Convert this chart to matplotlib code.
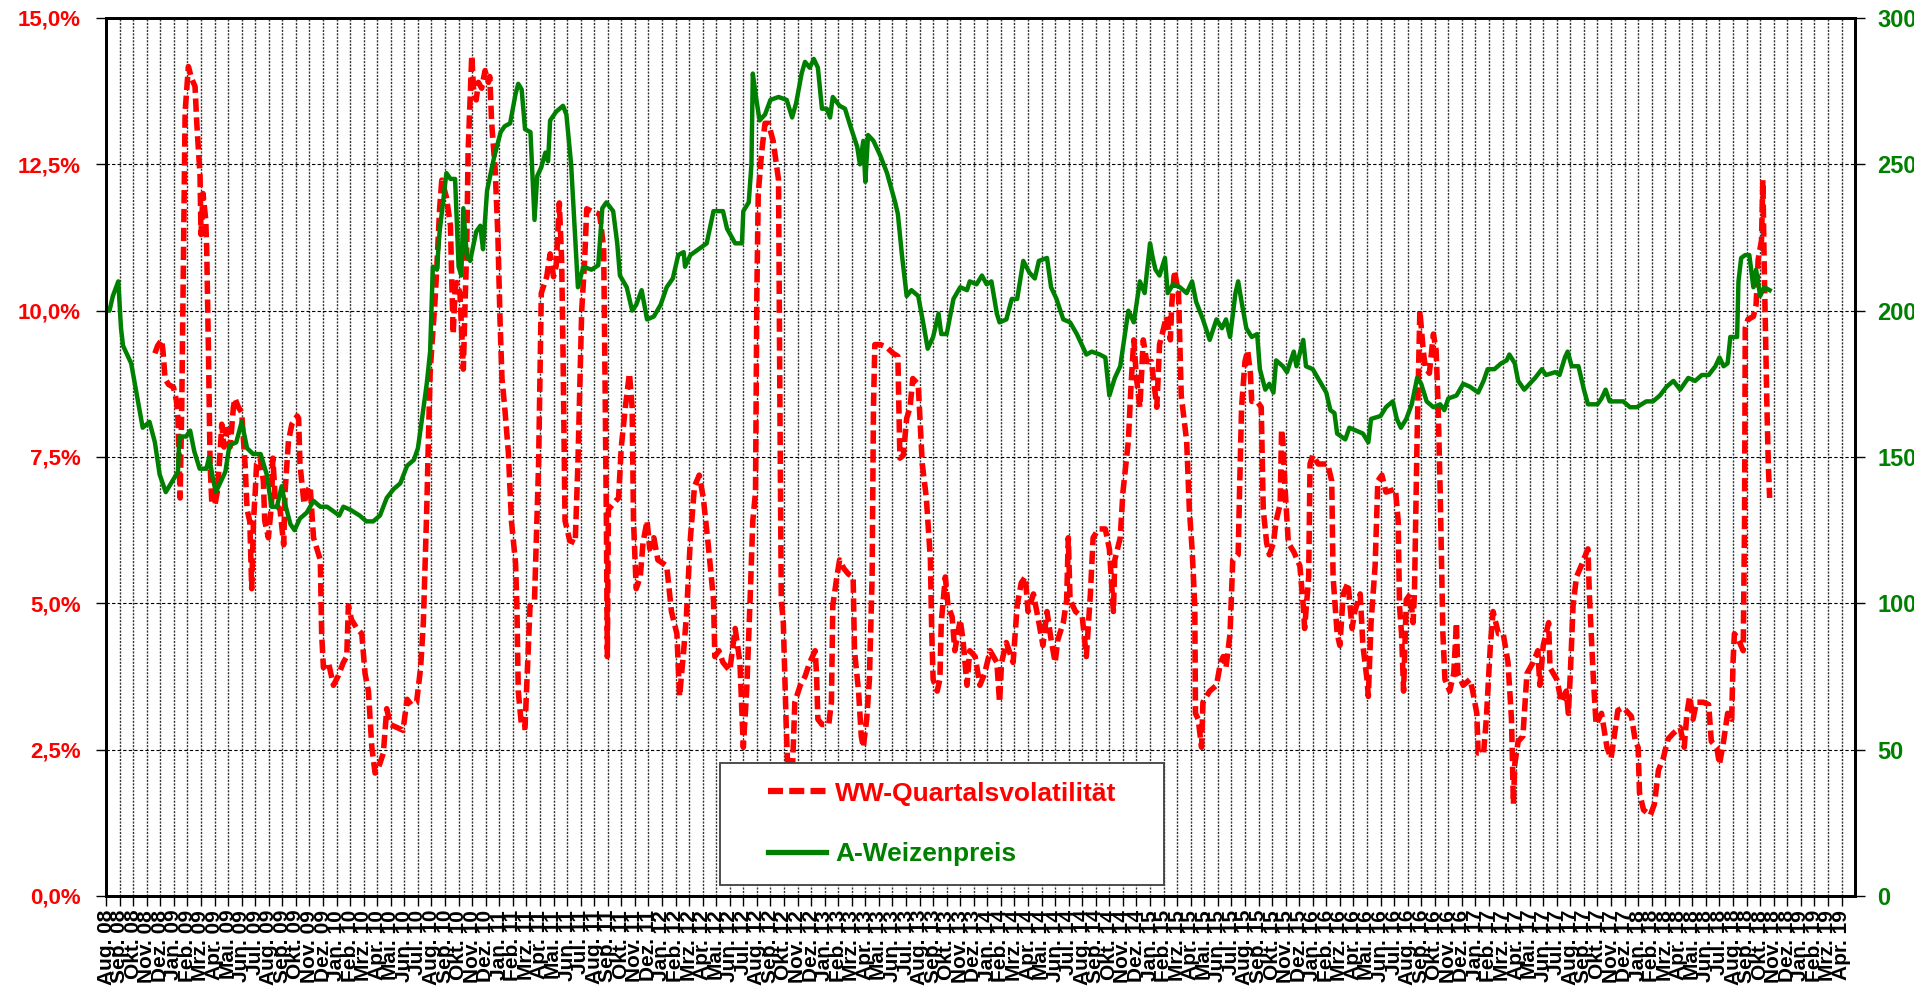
import matplotlib
matplotlib.use('Agg')
import matplotlib.pyplot as plt
from matplotlib.patches import Rectangle
from matplotlib.lines import Line2D

plt.rcParams['font.family'] = ['Liberation Sans', 'DejaVu Sans']

# x positions are months counted from Aug 2008 (0 = 1 Aug 2008)
vol_month = [3.6, 3.8, 4.1, 4.2, 4.35, 4.6, 4.97, 5.2, 5.3, 5.46, 5.58, 5.7, 5.83, 6.07, 6.3, 6.56, 6.69, 6.93, 7.0,
             7.15, 7.35, 7.42, 7.55, 7.67, 7.8, 8.04, 8.2, 8.41, 8.53, 8.7, 8.9, 9.15, 9.39, 9.5, 9.76, 10.0, 10.25,
             10.4, 10.6, 10.74, 10.87, 11.0, 11.1, 11.36, 11.6, 11.7, 11.97, 12.2, 12.3, 12.5, 12.83, 13.1, 13.2,
             13.45, 13.7, 14.1, 14.2, 14.3, 14.6, 14.8, 15.05, 15.3, 15.8, 15.9, 16.03, 16.4, 16.77, 17.1, 17.5,
             17.75, 17.87, 18.1, 18.5, 18.86, 19.1, 19.35, 19.6, 19.84, 20.1, 20.45, 20.7, 20.95, 21.44, 21.9, 22.2,
             22.5, 22.9, 23.2, 23.4, 23.5, 23.65, 23.77, 23.9, 24.0, 24.27, 24.4, 24.6, 24.76, 25.1, 25.4, 25.5,
             25.6, 25.75, 25.86, 26.1, 26.35, 26.5, 26.6, 26.7, 26.97, 27.1, 27.3, 27.46, 27.7, 27.95, 28.2, 28.3,
             28.44, 28.7, 28.9, 29.06, 29.2, 29.4, 29.67, 29.9, 30.2, 30.3, 30.4, 30.65, 30.9, 31.27, 31.6, 31.9,
             32.1, 32.5, 32.75, 33.0, 33.2, 33.43, 33.6, 33.7, 33.85, 34.2, 34.6, 34.8, 35.08, 35.3, 35.45, 35.8,
             36.4, 36.7, 36.8, 36.9, 36.97, 37.05, 37.4, 37.8, 38.0, 38.3, 38.6, 38.8, 38.9, 39.1, 39.4, 39.6,
             39.9, 40.1, 40.4, 40.7, 41.35, 41.7, 42.1, 42.3, 42.6, 42.8, 43.1, 43.4, 43.75, 44.05, 44.4, 44.8,
             44.9, 45.2, 45.5, 46.0, 46.4, 46.75, 47.0, 47.25, 47.5, 47.7, 47.9, 48.0, 48.1, 48.35, 48.6, 48.85,
             49.2, 49.6, 49.7, 49.8, 49.95, 50.15, 50.3, 50.6, 50.8, 51.2, 51.55, 51.9, 52.3, 52.4, 52.5, 52.8,
             53.3, 53.5, 53.6, 53.9, 54.1, 54.4, 54.75, 55.1, 55.2, 55.5, 55.7, 55.85, 56.1, 56.3, 56.5, 56.6,
             56.7, 57.1, 57.6, 58.06, 58.4, 58.55, 58.8, 59.05, 59.3, 59.5, 59.9, 60.2, 60.5, 60.8, 60.9, 61.0,
             61.3, 61.5, 61.6, 61.9, 62.1, 62.4, 62.6, 63.0, 63.2, 63.5, 63.7, 64.1, 64.45, 64.8, 65.2, 65.7,
             65.9, 66.05, 66.4, 66.9, 67.2, 67.5, 67.8, 68.0, 68.4, 68.8, 69.1, 69.4, 69.7, 70.0, 70.2, 70.6,
             70.85, 70.97, 71.1, 71.5, 72.0, 72.3, 72.6, 72.8, 73.2, 73.7, 74.0, 74.3, 74.4, 74.8, 75.0, 75.4,
             75.6, 75.8, 76.0, 76.25, 76.5, 76.75, 77.1, 77.4, 77.5, 77.7, 78.0, 78.2, 78.5, 78.6, 78.8, 79.1,
             79.3, 79.7, 79.9, 80.1, 80.3, 80.35, 80.55, 80.8, 80.9, 81.4, 81.9, 82.2, 82.4, 82.6, 82.9, 83.1,
             83.5, 83.6, 83.75, 84.0, 84.2, 84.4, 84.5, 84.9, 85.2, 85.35, 85.6, 85.8, 86.1, 86.3, 86.6, 86.7,
             86.8, 86.95, 87.1, 87.2, 87.6, 88.05, 88.3, 88.4, 88.7, 88.8, 89.0, 89.4, 90.1, 90.4, 90.5, 90.8,
             91.0, 91.25, 91.6, 91.9, 92.1, 92.5, 92.7, 93.0, 93.1, 93.3, 93.6, 93.8, 94.1, 94.4, 95.1, 95.3,
             95.4, 95.55, 95.7, 95.9, 96.2, 96.4, 96.5, 96.7, 96.9, 97.15, 97.3, 97.6, 97.9, 98.1, 98.25, 98.4,
             98.6, 98.75, 99.1, 99.4, 99.6, 99.7, 100.1, 100.6, 100.8, 101.1, 101.2, 101.6, 101.8, 102.1, 102.3,
             102.7, 103.05, 103.4, 103.66, 103.8, 103.9, 104.15, 104.5, 104.8, 105.25, 105.6, 105.75, 106.0,
             106.4, 106.5, 107.0, 107.35, 107.7, 107.85, 108.0, 108.2, 108.45, 108.8, 109.3, 109.4, 109.7, 109.9,
             110.3, 110.7, 111.0, 111.3, 111.5, 111.9, 112.5, 112.8, 113.0, 113.1, 113.4, 113.9, 114.2, 114.5,
             114.85, 115.2, 115.6, 116.1, 116.4, 116.6, 116.8, 117.05, 117.3, 117.8, 118.2, 118.4, 118.8, 119.0,
             119.3, 119.6, 119.9, 120.0, 120.1, 120.4, 120.75, 120.85, 120.9, 121.1, 121.5, 121.7, 121.85, 122.1,
             122.2, 122.3, 122.5, 122.6, 122.7]
vol_pct = [9.27, 9.4, 9.5, 9.3, 8.84, 8.74, 8.69, 8.45, 8.16, 6.8, 8.35, 10.8, 13.4, 14.17, 13.97, 13.83, 13.2, 12.3,
           11.3, 12.0, 11.55, 11.07, 9.3, 7.38, 6.7, 6.7, 6.9, 7.58, 8.06, 7.67, 7.97, 7.67, 8.35, 8.5, 8.35, 8.26,
           7.38, 6.6, 6.4, 5.25, 6.4, 6.9, 7.38, 7.48, 7.09, 6.41, 6.12, 6.7, 7.48, 6.7, 6.6, 6.0, 6.9, 7.77, 8.06,
           8.2, 8.16, 7.38, 6.7, 6.9, 7.0, 6.12, 5.74, 4.48, 3.9, 3.99, 3.6, 3.75, 3.99, 4.09, 4.96, 4.72, 4.57,
           4.48, 3.8, 3.5, 2.54, 2.1, 2.2, 2.44, 3.2, 2.93, 2.88, 2.83, 3.36, 3.27, 3.31, 3.9, 4.67, 5.45, 6.6,
           7.77, 8.93, 9.3, 10.2, 10.77, 11.74, 12.23, 11.94, 11.45, 10.48, 9.6, 10.4, 10.48, 10.3, 9.0, 10.3,
           11.07, 12.7, 14.36, 13.8, 13.6, 13.9, 13.8, 14.1, 13.9, 14.0, 13.2, 12.4, 11.26, 9.8, 8.84, 8.35, 7.58,
           6.4, 5.69, 4.96, 3.5, 2.88, 2.88, 4.96, 5.06, 7.38, 10.3, 10.58, 10.97, 10.58, 10.77, 11.84, 10.87,
           9.32, 6.41, 6.07, 6.03, 7.38, 10.0, 10.87, 11.74, 11.7, 11.65, 11.07, 8.84, 6.41, 4.09, 6.6, 6.7, 6.8,
           7.67, 8.35, 8.93, 8.35, 6.41, 5.25, 5.45, 6.03, 6.41, 5.93, 6.12, 5.74, 5.64, 4.86, 4.48, 3.41, 4.19,
           4.77, 6.12, 7.0, 7.19, 6.8, 6.03, 5.06, 4.09, 4.19, 3.99, 3.85, 4.57, 3.99, 2.54, 3.51, 5.06, 6.41, 6.9,
           10.3, 12.0, 12.7, 13.2, 13.2, 12.9, 12.23, 8.35, 5.06, 4.67, 3.02, 2.0, 2.0, 3.31, 3.6, 3.75, 3.99,
           4.19, 3.8, 3.02, 2.93, 2.93, 3.31, 4.96, 5.45, 5.74, 5.6, 5.5, 5.45, 4.19, 3.5, 2.73, 2.54, 3.02, 3.7,
           5.45, 8.35, 9.42, 9.42, 9.37, 9.27, 9.22, 7.48, 7.53, 8.16, 8.35, 8.84, 8.74, 7.38, 6.8, 5.74, 4.48,
           3.7, 3.5, 3.7, 4.67, 5.45, 4.96, 4.77, 4.19, 4.72, 4.38, 3.6, 4.19, 4.09, 3.6, 3.8, 4.19, 3.99, 3.31,
           3.99, 4.33, 3.99, 4.96, 5.35, 5.45, 4.86, 5.16, 4.67, 4.28, 4.86, 4.38, 3.99, 4.38, 4.67, 5.06, 6.12,
           5.06, 4.86, 4.77, 4.09, 5.16, 6.12, 6.27, 6.27, 5.93, 4.86, 5.74, 6.12, 6.9, 7.77, 8.74, 9.5, 8.84,
           8.35, 9.5, 9.13, 9.13, 8.55, 8.35, 9.42, 9.7, 9.9, 9.5, 10.1, 10.68, 10.3, 8.55, 7.77, 6.6, 5.93, 4.96,
           3.12, 3.02, 2.54, 3.31, 3.5, 3.6, 3.99, 4.09, 3.9, 4.48, 5.74, 5.83, 6.9, 8.35, 9.13, 9.32, 8.93, 8.45,
           8.45, 8.35, 6.6, 6.03, 5.83, 6.03, 6.41, 6.7, 7.97, 7.77, 7.0, 6.41, 6.03, 5.88, 5.64, 4.96, 4.57, 5.45,
           7.38, 7.53, 7.38, 7.38, 7.09, 5.45, 4.48, 4.28, 5.16, 5.35, 4.57, 4.86, 5.16, 4.28, 3.7, 3.41, 4.67,
           5.64, 7.09, 7.19, 6.9, 6.95, 6.41, 4.96, 4.48, 3.5, 5.06, 5.16, 4.67, 5.16, 7.87, 10.0, 9.32, 9.03,
           8.93, 9.6, 9.32, 8.35, 6.9, 4.48, 3.7, 3.5, 3.8, 4.67, 3.8, 3.6, 3.7, 3.5, 3.12, 2.44, 2.44, 3.02,
           4.28, 4.86, 4.48, 4.48, 3.99, 3.02, 1.57, 2.25, 2.64, 2.73, 3.8, 3.99, 4.19, 3.6, 4.28, 4.67, 3.9, 3.7,
           3.31, 3.5, 3.12, 3.8, 4.96, 5.45, 5.64, 5.93, 5.16, 3.7, 2.93, 3.12, 2.54, 2.35, 2.83, 3.17, 3.22,
           3.07, 2.64, 2.54, 1.76, 1.47, 1.38, 1.57, 2.15, 2.35, 2.68, 2.78, 2.88, 2.54, 3.12, 3.41, 3.02, 3.31,
           3.31, 3.27, 2.64, 2.54, 2.25, 2.64, 3.12, 3.02, 3.99, 4.48, 4.38, 4.19, 6.41, 9.7, 9.85, 9.9, 10.1,
           10.87, 11.2, 12.23, 10.77, 8.35, 7.38, 6.8]

price_month = [0, 0.25, 0.5, 0.9, 1.1, 1.25, 1.85, 2.2, 2.7, 3.2, 3.6, 3.95, 4.4, 5.05, 5.3, 5.4, 5.9, 6.2, 6.5, 6.9,
               7.4, 7.6, 7.9, 8.1, 8.8, 9.1, 9.6, 10.0, 10.4, 10.85, 11.4, 11.85, 12.2, 12.6, 12.95, 13.2, 13.6,
               13.9, 14.3, 14.8, 15.3, 15.8, 16.3, 17.2, 17.5, 18.0, 18.7, 19.2, 19.7, 20.2, 20.7, 21.2, 21.7,
               22.2, 22.7, 23.0, 23.3, 23.65, 23.9, 24.1, 24.4, 24.6, 24.9, 25.1, 25.4, 25.74, 26.0, 26.2, 26.35,
               26.6, 26.85, 27.3, 27.6, 27.8, 28.1, 28.6, 29.1, 29.4, 29.8, 30.2, 30.4, 30.65, 30.9, 31.3, 31.6,
               31.8, 32.1, 32.4, 32.6, 32.75, 33.2, 33.7, 33.95, 34.3, 34.8, 35.2, 35.8, 36.3, 36.6, 36.9, 37.4,
               37.7, 37.9, 38.4, 38.8, 39.1, 39.5, 39.9, 40.4, 40.9, 41.35, 41.8, 42.2, 42.6, 42.7, 43.1, 43.7,
               44.3, 44.8, 45.5, 45.8, 46.4, 46.9, 47.0, 47.4, 47.6, 47.7, 47.9, 48.2, 48.6, 49.0, 49.6, 50.2,
               50.6, 50.9, 51.3, 51.55, 51.9, 52.2, 52.5, 52.8, 53.15, 53.4, 53.6, 54.1, 54.5, 54.9, 55.4, 55.6,
               55.85, 56.0, 56.2, 56.6, 57.1, 57.6, 57.9, 58.2, 58.4, 58.7, 59.05, 59.4, 59.9, 60.3, 60.6, 61.0,
               61.4, 61.6, 62.0, 62.5, 63.0, 63.5, 63.7, 64.2, 64.6, 64.95, 65.3, 65.7, 65.9, 66.4, 66.8, 67.2,
               67.65, 68.1, 68.5, 68.8, 69.4, 69.7, 70.1, 70.6, 71.1, 71.6, 72.1, 72.3, 72.7, 73.3, 73.7, 74.0,
               74.4, 74.8, 75.15, 75.4, 75.8, 76.25, 76.6, 77.0, 77.2, 77.4, 77.7, 78.1, 78.3, 78.7, 79.2, 79.7,
               80.1, 80.4, 80.9, 81.4, 81.9, 82.3, 82.6, 82.9, 83.3, 83.5, 83.75, 84.1, 84.5, 84.9, 85.1, 85.5,
               85.8, 86.1, 86.3, 86.8, 87.1, 87.6, 87.8, 88.3, 88.5, 89.0, 89.5, 90.0, 90.3, 90.6, 90.8, 91.4,
               91.7, 92.2, 92.7, 93.1, 93.3, 94.0, 94.4, 94.9, 95.2, 95.5, 95.9, 96.3, 96.7, 97.0, 97.4, 97.9,
               98.4, 98.7, 99.0, 99.6, 100.1, 100.6, 101.2, 101.6, 101.9, 102.4, 102.9, 103.3, 103.5, 103.9,
               104.15, 104.6, 105.0, 105.4, 105.9, 106.2, 106.9, 107.2, 107.6, 107.8, 108.1, 108.6, 109.0, 109.3,
               110.0, 110.3, 110.6, 110.9, 111.9, 112.4, 112.9, 113.6, 114.1, 114.6, 115.1, 115.6, 116.1, 116.7,
               117.2, 117.7, 118.2, 118.7, 119.0, 119.3, 119.6, 119.8, 120.3, 120.4, 120.6, 120.9, 121.2, 121.5,
               121.7, 122.0, 122.3, 122.7]
price_eur = [200, 200, 205, 210, 194, 188, 182, 173, 160, 162, 155, 144, 138, 143, 145, 157, 157, 159, 152, 146, 146,
             150, 142, 138, 145, 154, 155, 162, 153, 151, 151, 144, 133, 133, 140, 134, 127, 125, 129, 131, 135, 133,
             133, 130, 133, 132, 130, 128, 128, 130, 136, 139, 141, 147, 149, 153, 163, 175, 186, 215, 214, 227,
             239, 247, 245, 245, 215, 212, 235, 219, 217, 227, 229, 221, 241, 252, 261, 263, 264, 274, 277.5,
             275.6, 262, 261, 231, 246, 249, 254, 251, 265, 268, 270, 267, 250, 208, 215, 214, 215.5, 235, 237,
             234, 223, 212, 208, 200, 202, 207, 197, 198, 202, 208, 211, 219, 220, 215, 219, 221, 223, 234, 234,
             228, 223, 223, 234, 237, 250, 281, 274, 265, 267, 272, 273, 272, 266, 271, 281, 285, 283, 286, 283,
             269, 269, 266, 273, 270, 269, 263, 256, 250, 258, 244, 260, 258, 253, 247, 242, 237, 233, 219, 205,
             207, 205, 195, 187, 191, 199, 192, 192, 204, 208, 207, 210, 209, 212, 209, 210, 199, 196, 197, 204,
             204, 217, 213, 211, 217, 218, 208, 204, 197, 196, 192, 187, 185, 186, 185, 184, 171, 177, 181, 192,
             200, 196, 210, 206, 223, 218, 214, 212, 218, 206, 209, 208, 206, 210, 203, 197, 190, 197, 194, 197,
             191, 206, 210, 203, 194, 191, 192, 180, 173, 175, 172, 183, 181, 179, 186, 181, 190, 181, 180, 176,
             172, 166, 165, 158, 156, 160, 159, 158, 155, 163, 164, 167, 169, 163, 160, 163, 168, 177, 175, 169,
             167, 168, 166, 170, 171, 175, 174, 172, 176, 180, 180, 182, 183, 185, 182, 176, 173, 175, 177, 180,
             178, 179, 178, 184, 186, 181, 181, 173, 168, 168, 170, 173, 169, 169, 167, 167, 169, 169, 171, 174,
             176, 173, 177, 176, 178, 178, 181, 184, 181, 182, 191, 191, 210, 218, 219, 219, 208, 214, 205, 208,
             207]

month_abbr = ['Jan.', 'Feb.', 'Mrz.', 'Apr.', 'Mai.', 'Jun.', 'Jul.',
              'Aug.', 'Sep.', 'Okt.', 'Nov.', 'Dez.']
# tick labels Aug. 08 ... Apr. 19
tick_labels = []
for i in range(129):
    mon = (7 + i) % 12
    yr = 8 + (7 + i) // 12
    tick_labels.append(month_abbr[mon] + ' %02d' % yr)

pct_ticks = [0, 2.5, 5, 7.5, 10, 12.5, 15]
pct_labels = ['0,0%', '2,5%', '5,0%', '7,5%', '10,0%', '12,5%', '15,0%']
price_ticks = [0, 50, 100, 150, 200, 250, 300]

RED = '#FF0000'
GREEN = '#008000'

fig = plt.figure(figsize=(19.15, 9.93), dpi=100)
ax = fig.add_axes([0.0554, 0.0977, 0.9133, 0.8842])
ax2 = ax.twinx()

ax.plot(vol_month, vol_pct, color=RED, lw=4.0, linestyle=(0, (2.4, 1.0)),
        dash_capstyle='butt', solid_joinstyle='round')
ax2.plot(price_month, price_eur, color=GREEN, lw=3.2, solid_joinstyle='round')

ax.set_xlim(0, 129)
ax.set_ylim(0, 15)
ax2.set_ylim(0, 300)

ax.set_xticks(range(129))
ax.set_xticklabels(tick_labels, rotation=90, fontsize=15, fontweight='bold')
ax.set_yticks(pct_ticks)
ax.set_yticklabels(pct_labels, color=RED, fontsize=16, fontweight='bold')
ax2.set_yticks(price_ticks)
ax2.set_yticklabels([str(v) for v in price_ticks], color=GREEN, fontsize=17, fontweight='bold')

ax.tick_params(axis='x', length=7, width=1, pad=3, direction='out')
ax.tick_params(axis='y', length=7, width=1, pad=11, direction='out')
ax2.tick_params(axis='y', length=7, width=1, pad=9, direction='out')

ax.set_axisbelow(True)
ax.grid(axis='x', color='#333333', lw=1.0, linestyle=(0, (1.5, 1)))
ax.grid(axis='y', color='black', lw=0.8, linestyle=(0, (3, 2)))

for a in (ax, ax2):
    for s in a.spines.values():
        s.set_linewidth(2)
        s.set_color('black')

# legend box
fig.add_artist(Rectangle((720 / 1915, 1 - 885 / 993), 444 / 1915, 122 / 993,
                         transform=fig.transFigure, facecolor='white',
                         edgecolor='#404040', lw=1.3, zorder=3))
handles = [Line2D([], [], color=RED, lw=4.5, linestyle=(0, (2.4, 1.0))),
           Line2D([], [], color=GREEN, lw=3.8)]
leg = fig.legend(handles, ['WW-Quartalsvolatilität', 'A-Weizenpreis'],
                 loc='center', bbox_to_anchor=(942 / 1915, 1 - 824 / 993),
                 frameon=False, handlelength=2.2, handletextpad=0.35,
                 labelspacing=1.4, prop={'size': 19, 'weight': 'bold'})
leg.set_zorder(4)
leg.get_texts()[0].set_color(RED)
leg.get_texts()[1].set_color(GREEN)

fig.savefig('out.png', dpi=100)
